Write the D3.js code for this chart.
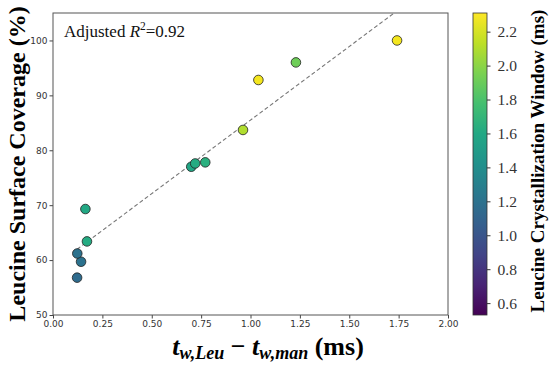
<!DOCTYPE html>
<html>
<head>
<meta charset="utf-8">
<script src="https://cdn.jsdelivr.net/npm/d3@7"></script>
<style>
  body { margin: 0; background: #fff; }
  .tick text { font-family: "DejaVu Sans", sans-serif; font-size: 9px; fill: #333; }
</style>
</head>
<body>
<script>
// data
var deltaT   = [0.122, 0.142, 0.123, 0.172, 0.164, 0.700, 0.720, 0.771, 0.962, 1.040, 1.230, 1.742];
var coverage = [56.8, 59.7, 61.2, 63.4, 69.3, 77.0, 77.6, 77.8, 83.7, 92.8, 96.0, 100.0];
var window_  = [1.15, 1.20, 1.20, 1.62, 1.60, 1.58, 1.62, 1.66, 2.10, 2.28, 1.92, 2.28];
var xTicks = [0, 0.25, 0.5, 0.75, 1, 1.25, 1.5, 1.75, 2];
var yTicks = [50, 60, 70, 80, 90, 100];
var cTicks = [0.6, 0.8, 1.0, 1.2, 1.4, 1.6, 1.8, 2.0, 2.2];
var fitSlope = 26.8, fitIntercept = 58.7;
var rAdj = "0.92";

var width = 550, height = 370;
var pLeft = 53, pTop = 13, pRight = 448, pBottom = 315;

var svg = d3.select("body").append("svg")
    .attr("width", width)
    .attr("height", height);

var x = d3.scaleLinear().domain([0, 2]).range([pLeft, pRight]);
var y = d3.scaleLinear().domain([50, 105]).range([pBottom, pTop]);
var cmin = 0.53, cmax = 2.31;
var color = d3.scaleSequential(d3.interpolateViridis).domain([cmin, cmax]);

// axes
svg.append("g")
    .attr("transform", "translate(0," + pBottom + ")")
    .call(d3.axisBottom(x).tickValues(xTicks).tickFormat(d3.format(".2f")).tickSize(3.5).tickPadding(2))
    .call(function(g){ g.select(".domain").remove(); g.selectAll("line").attr("stroke", "#444"); });

svg.append("g")
    .attr("transform", "translate(" + pLeft + ",0)")
    .call(d3.axisLeft(y).tickValues(yTicks).tickSize(3.5).tickPadding(2))
    .call(function(g){ g.select(".domain").remove(); g.selectAll("line").attr("stroke", "#444"); });

// frame
svg.append("rect")
    .attr("x", pLeft).attr("y", pTop)
    .attr("width", pRight - pLeft).attr("height", pBottom - pTop)
    .attr("fill", "none").attr("stroke", "#555").attr("stroke-width", 1);

// regression line
svg.append("clipPath").attr("id", "clip")
  .append("rect").attr("x", pLeft).attr("y", pTop).attr("width", pRight - pLeft).attr("height", pBottom - pTop);

var x0 = d3.min(deltaT), x1 = d3.max(deltaT);
svg.append("line")
    .attr("clip-path", "url(#clip)")
    .attr("x1", x(x0)).attr("y1", y(fitIntercept + fitSlope * x0))
    .attr("x2", x(x1)).attr("y2", y(fitIntercept + fitSlope * x1))
    .attr("stroke", "#777").attr("stroke-width", 1.1).attr("stroke-dasharray", "4,2.5");

// points
svg.selectAll(".pt")
    .data(deltaT)
    .enter()
    .append("circle")
    .attr("class", "pt")
    .attr("cx", function(d){ return x(d); })
    .attr("cy", function(d, i){ return y(coverage[i]); })
    .attr("r", 4.8)
    .attr("fill", function(d, i){ return color(window_[i]); })
    .attr("stroke", "#222").attr("stroke-width", 0.8);

// R2 text
var rt = svg.append("text")
    .attr("x", 64).attr("y", 37)
    .style("font-family", "Liberation Serif, serif").style("font-size", "17px").attr("fill", "#111");
rt.append("tspan").text("Adjusted ");
rt.append("tspan").style("font-style", "italic").text("R");
rt.append("tspan").attr("dy", -7).style("font-size", "11.5px").text("2");
rt.append("tspan").attr("dy", 7).text("=" + rAdj);

// y label
svg.append("text")
    .attr("transform", "translate(25,164) rotate(-90)")
    .attr("text-anchor", "middle")
    .style("font-family", "Liberation Serif, serif").style("font-weight", "bold").style("font-size", "24px")
    .text("Leucine Surface Coverage (%)");

// x label
var xl = svg.append("text")
    .attr("x", 268).attr("y", 355)
    .attr("text-anchor", "middle")
    .style("font-family", "Liberation Serif, serif").style("font-weight", "bold").style("font-size", "26px");
xl.append("tspan").style("font-style", "italic").text("t");
xl.append("tspan").attr("dy", 4).style("font-style", "italic").style("font-size", "18px").text("w,Leu");
xl.append("tspan").attr("dy", -4).text(" \u2212 ");
xl.append("tspan").style("font-style", "italic").text("t");
xl.append("tspan").attr("dy", 4).style("font-style", "italic").style("font-size", "18px").text("w,man");
xl.append("tspan").attr("dy", -4).text(" (ms)");

// colorbar
var cx0 = 473, cw = 14;
var cy = d3.scaleLinear().domain([cmin, cmax]).range([pBottom, pTop]);
var grad = svg.append("defs").append("linearGradient")
    .attr("id", "vgrad").attr("x1", "0").attr("y1", "1").attr("x2", "0").attr("y2", "0");
d3.range(0, 1.0001, 0.1).forEach(function(t){
    grad.append("stop").attr("offset", t).attr("stop-color", d3.interpolateViridis(t));
});
svg.append("rect")
    .attr("x", cx0).attr("y", pTop).attr("width", cw).attr("height", pBottom - pTop)
    .attr("fill", "url(#vgrad)").attr("stroke", "#333").attr("stroke-width", 0.8);

svg.append("g")
    .attr("transform", "translate(" + (cx0 + cw) + ",0)")
    .call(d3.axisRight(cy).tickValues(cTicks).tickFormat(d3.format(".1f")).tickSize(3.5).tickPadding(7))
    .call(function(g){
        g.select(".domain").remove();
        g.selectAll("line").attr("stroke", "#333");
        g.selectAll("text")
            .style("font-family", "'Liberation Serif', 'DejaVu Serif', serif")
            .style("font-size", "15.5px")
            .style("fill", "#333");
    });

svg.append("text")
    .attr("transform", "translate(544,161) rotate(-90)")
    .attr("text-anchor", "middle")
    .style("font-family", "Liberation Serif, serif").style("font-weight", "bold").style("font-size", "19px")
    .text("Leucine Crystallization Window (ms)");
</script>
</body>
</html>
